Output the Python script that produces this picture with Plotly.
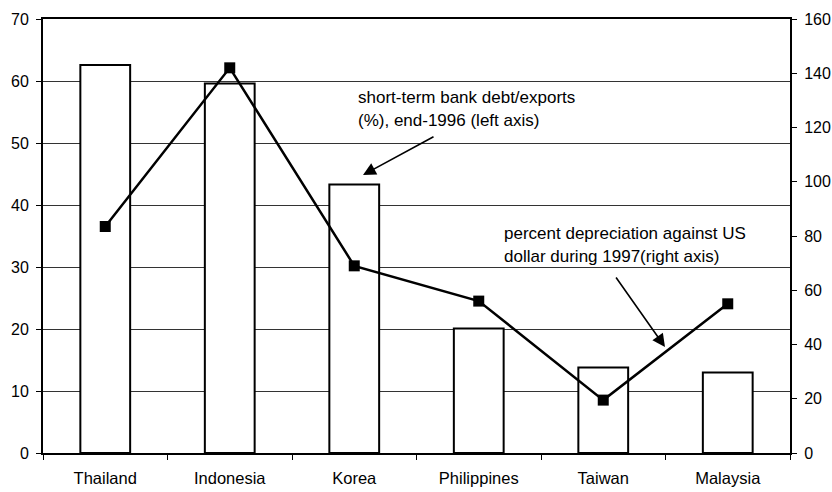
import plotly.graph_objects as go

countries = ["Thailand", "Indonesia", "Korea", "Philippines", "Taiwan", "Malaysia"]
debt_exports = [62.6, 59.6, 43.3, 20.1, 13.8, 13.0]
depreciation = [83.5, 142.0, 69.0, 56.0, 19.5, 55.0]

left_ticks = [0, 10, 20, 30, 40, 50, 60, 70]
right_ticks = [0, 20, 40, 60, 80, 100, 120, 140, 160]

FONT = "Liberation Sans, Arial, sans-serif"
L, R, T, B = 43, 790, 19, 453
PW, PH = R - L, B - T

fig = go.Figure()
fig.add_trace(go.Bar(
    x=countries, y=debt_exports, width=0.40,
    marker=dict(color="white", line=dict(color="black", width=2)),
    yaxis="y", showlegend=False,
))
fig.add_trace(go.Scatter(
    x=countries, y=depreciation, mode="lines+markers",
    line=dict(color="black", width=2.5),
    marker=dict(symbol="square", size=11, color="black"),
    yaxis="y2", showlegend=False,
))

fig.update_layout(
    width=832, height=492,
    margin=dict(l=L, r=832 - R, t=T, b=492 - B),
    plot_bgcolor="white", paper_bgcolor="white",
    font=dict(family=FONT, size=16, color="black"),
    xaxis=dict(
        showline=True, linecolor="black", linewidth=2, mirror=True,
        ticks="outside", tickson="boundaries", ticklen=5, tickcolor="black",
        showgrid=False, tickfont=dict(size=16.5), ticklabelstandoff=9,
        automargin=False,
    ),
    yaxis=dict(
        range=[0, 70], tickvals=left_ticks,
        showline=True, linecolor="black", linewidth=2,
        ticks="outside", ticklen=5, tickcolor="black",
        showgrid=True, gridcolor="#333", gridwidth=1.3,
        zeroline=False, tickfont=dict(size=16), ticklabelstandoff=4,
        automargin=False,
    ),
    yaxis2=dict(
        range=[0, 160], tickvals=right_ticks, overlaying="y", side="right",
        showline=True, linecolor="black", linewidth=2,
        ticks="outside", ticklen=5, tickcolor="black",
        showgrid=False, zeroline=False, tickfont=dict(size=16), ticklabelstandoff=4,
        automargin=False,
    ),
)

def px_x(px):
    return (px - L) / PW

def px_y(py):
    return (B - py) / PH

def text(x, y, s):
    fig.add_annotation(x=px_x(x), y=px_y(y), xref="paper", yref="paper", text=s,
                       showarrow=False, xanchor="left", yanchor="middle",
                       font=dict(family=FONT, size=17, color="black"))

text(356, 97, "short-term bank debt/exports")
text(356, 121, "(%), end-1996 (left axis)")
text(502, 233, "percent depreciation against US")
text(502, 256, "dollar during 1997(right axis)")

fig.add_annotation(x=px_x(363), y=px_y(175), xref="paper", yref="paper",
                   ax=72, ay=-39, showarrow=True, arrowhead=2, arrowsize=1.6,
                   arrowwidth=1.6, arrowcolor="black", text="")
fig.add_annotation(x=px_x(665), y=px_y(347), xref="paper", yref="paper",
                   ax=-50, ay=-71, showarrow=True, arrowhead=2, arrowsize=1.6,
                   arrowwidth=1.6, arrowcolor="black", text="")

fig.write_html("out.html", config={"displayModeBar": False},
               post_script="document.body.style.margin='0';document.body.style.overflow='hidden';")
